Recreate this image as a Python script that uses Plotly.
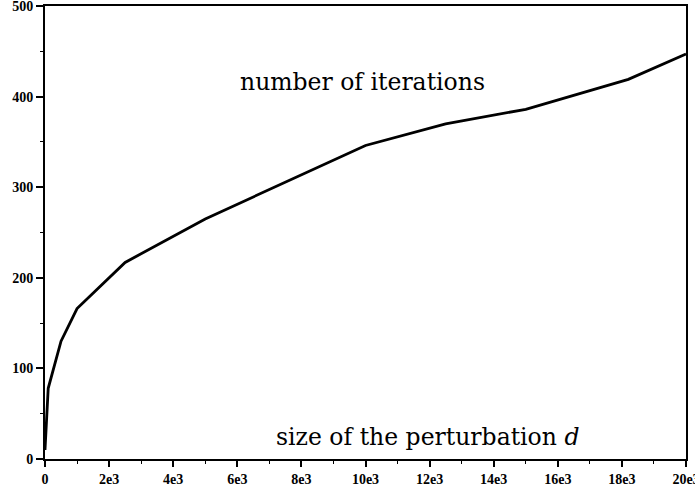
import plotly.graph_objects as go

# data
perturbation = [0, 100, 500, 1000, 2500, 5000, 10000, 12500, 15000, 18200, 20000]
iterations = [10, 78, 130, 166, 217, 265, 346, 370, 386, 419, 447]

x_tickvals = [0, 2000, 4000, 6000, 8000, 10000, 12000, 14000, 16000, 18000, 20000]
x_ticktext = ["0", "2e3", "4e3", "6e3", "8e3", "10e3", "12e3", "14e3", "16e3", "18e3", "20e3"]
y_tickvals = [0, 100, 200, 300, 400, 500]
y_ticktext = ["0", "100", "200", "300", "400", "500"]

fig = go.Figure()
fig.add_trace(go.Scatter(x=perturbation, y=iterations, mode="lines",
                         line=dict(color="black", width=2.8), showlegend=False))

tickfont = dict(family="Liberation Serif", size=14, color="black", weight="bold")
fig.update_xaxes(range=[0, 20000], tickvals=x_tickvals, ticktext=x_ticktext,
                 ticks="outside", ticklen=6, tickwidth=1.5, tickcolor="black",
                 showline=True, linecolor="black", linewidth=1.8, mirror=True,
                 showgrid=False, zeroline=False, tickfont=tickfont, automargin=False,
                 ticklabeloverflow="allow",
                 minor=dict(dtick=1000, ticks="outside", ticklen=3, tickwidth=1.2, tickcolor="black"))
fig.update_yaxes(range=[0, 500], tickvals=y_tickvals, ticktext=y_ticktext,
                 ticks="outside", ticklen=7, tickwidth=1.5, tickcolor="black",
                 showline=True, linecolor="black", linewidth=1.8, mirror=True,
                 showgrid=False, zeroline=False, tickfont=tickfont, automargin=False,
                 ticklabeloverflow="allow",
                 minor=dict(dtick=50, ticks="outside", ticklen=3, tickwidth=1.2, tickcolor="black"))

fig.add_annotation(x=0.496, y=0.832, xref="paper", yref="paper", text="number of iterations",
                   xanchor="center", yanchor="middle",
                   showarrow=False, font=dict(family="DejaVu Serif", size=23.5, color="black"))
fig.add_annotation(x=0.597, y=0.049, xref="paper", yref="paper", text="size of the perturbation <i>d</i>",
                   xanchor="center", yanchor="middle",
                   showarrow=False, font=dict(family="DejaVu Serif", size=23.5, color="black"))

fig.update_layout(width=695, height=493, margin=dict(l=45, r=9, t=6, b=34),
                  plot_bgcolor="white", paper_bgcolor="white",
                  font=dict(family="Liberation Serif", color="black"))
fig.write_html("out.html", config={"displayModeBar": False},
               post_script="document.body.style.margin='0';")
